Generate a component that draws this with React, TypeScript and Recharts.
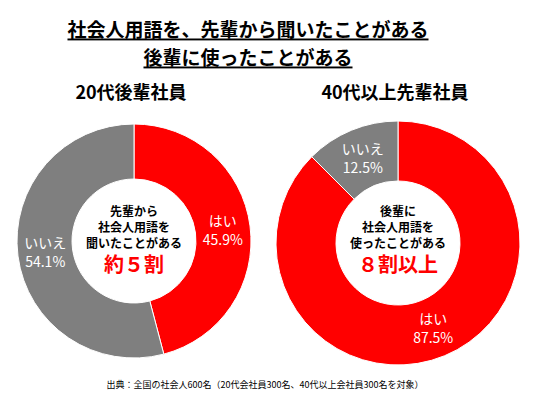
import { PieChart, Pie, Cell } from "recharts"

const answers = ["はい", "いいえ"]
const juniorValues = [45.9, 54.1]
const seniorValues = [87.5, 12.5]
const sliceColors = ["#FF0000", "#7F7F7F"]

const titleLines = ["社会人用語を、先輩から聞いたことがある", "後輩に使ったことがある"]
const groupTitles = ["20代後輩社員", "40代以上先輩社員"]
const juniorCenter = ["先輩から", "社会人用語を", "聞いたことがある"]
const seniorCenter = ["後輩に", "社会人用語を", "使ったことがある"]
const centerHighlights = ["約５割", "８割以上"]
const sourceNote = "出典：全国の社会人600名（20代会社員300名、40代以上会社員300名を対象）"

const FONT = '"Noto Sans CJK JP", "Noto Sans", sans-serif'
const RAD = Math.PI / 180

const juniorData = answers.map((name, i) => ({ name, value: juniorValues[i] }))
const seniorData = answers.map((name, i) => ({ name, value: seniorValues[i] }))

function SliceLabel(props: any) {
  const { cx, cy, midAngle, innerRadius, outerRadius, name, value } = props
  const r = (innerRadius + outerRadius) / 2
  const x = cx + r * Math.cos(-midAngle * RAD)
  const y = cy + r * Math.sin(-midAngle * RAD)
  return (
    <text
      x={x}
      y={y}
      fill="#fff"
      fontSize={14}
      fontFamily={FONT}
      textAnchor="middle"
    >
      <tspan x={x} dy={-4}>{name}</tspan>
      <tspan x={x} dy={19}>{value.toFixed(1)}%</tspan>
    </text>
  )
}

function CenterText({ x, lines, highlight }: { x: number; lines: string[]; highlight: string }) {
  return (
    <g fontFamily={FONT} textAnchor="middle">
      {lines.map((l, i) => (
        <text key={l} x={x} y={210 + i * 16} dominantBaseline="central" fontSize={12} fontWeight="bold" fill="#000">
          {l}
        </text>
      ))}
      <text x={x} y={263} dominantBaseline="central" fontSize={20} fontWeight="bold" fill="#FF0000">
        {highlight}
      </text>
    </g>
  )
}

export default function App() {
  return (
    <div style={{ position: "absolute", left: 0, top: 0, background: "#fff" }}>
      <PieChart width={536} height={395} margin={{ top: 0, right: 0, bottom: 0, left: 0 }}>
        <Pie
          data={juniorData}
          dataKey="value"
          nameKey="name"
          cx={134}
          cy={241}
          innerRadius={62}
          outerRadius={117}
          startAngle={90}
          endAngle={-270}
          stroke="#fff"
          strokeWidth={1}
          label={SliceLabel}
          labelLine={false}
          isAnimationActive={false}
        >
          {juniorData.map((d, i) => (
            <Cell key={d.name} fill={sliceColors[i]} />
          ))}
        </Pie>
        <Pie
          data={seniorData}
          dataKey="value"
          nameKey="name"
          cx={398}
          cy={243}
          innerRadius={62}
          outerRadius={122}
          startAngle={90}
          endAngle={-270}
          stroke="#fff"
          strokeWidth={1}
          label={SliceLabel}
          labelLine={false}
          isAnimationActive={false}
        >
          {seniorData.map((d, i) => (
            <Cell key={d.name} fill={sliceColors[i]} />
          ))}
        </Pie>

        {titleLines.map((t, i) => (
          <text
            key={t}
            x={248}
            y={28 + i * 28}
            textAnchor="middle"
            dominantBaseline="central"
            fontFamily={FONT}
            fontSize={19}
            fontWeight="bold"
            textDecoration="underline"
            fill="#000"
          >
            {t}
          </text>
        ))}
        {groupTitles.map((t, i) => (
          <text
            key={t}
            x={i === 0 ? 131 : 395}
            y={91}
            textAnchor="middle"
            dominantBaseline="central"
            fontFamily={FONT}
            fontSize={18}
            fontWeight="bold"
            fill="#000"
          >
            {t}
          </text>
        ))}
        <CenterText x={134} lines={juniorCenter} highlight={centerHighlights[0]} />
        <CenterText x={398} lines={seniorCenter} highlight={centerHighlights[1]} />
        <text
          x={265}
          y={384}
          textAnchor="middle"
          dominantBaseline="central"
          fontFamily={FONT}
          fontSize={9}
          fill="#000"
        >
          {sourceNote}
        </text>
      </PieChart>
    </div>
  )
}
